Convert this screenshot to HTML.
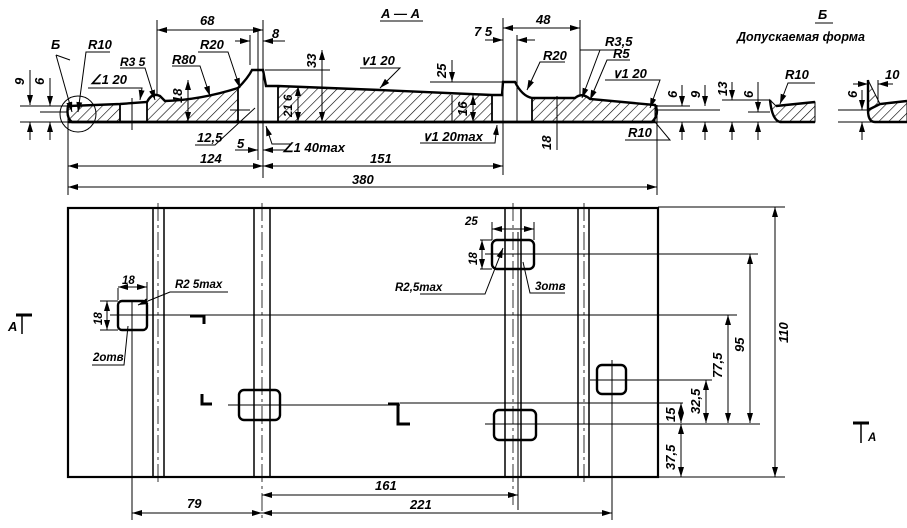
<!DOCTYPE html>
<html><head><meta charset="utf-8">
<style>
html,body{margin:0;padding:0;background:#fff;}
svg{display:block;}
text{font-family:"Liberation Sans",sans-serif;font-style:italic;font-weight:bold;fill:#000;}
</style></head><body>
<svg width="907" height="528" viewBox="0 0 907 528" xmlns="http://www.w3.org/2000/svg">
<defs>
<pattern id="h" width="7" height="7" patternUnits="userSpaceOnUse" patternTransform="rotate(45)">
<line x1="0" y1="0" x2="0" y2="7" stroke="#000" stroke-width="1.2"/>
</pattern>
<marker id="a" markerWidth="10" markerHeight="6" refX="10" refY="3" orient="auto-start-reverse" markerUnits="userSpaceOnUse">
<path d="M0,0 L10,3 L0,6 z" fill="#000"/>
</marker>
</defs>
<g stroke="#000" fill="none" stroke-width="1">

<line x1="20" y1="122" x2="720" y2="122"/>
<line x1="20" y1="106" x2="68" y2="106"/>
<path d="M68,122 L68,106 L120,104 L120,122 Z" fill="url(#h)"/>
<path d="M147,122 L147,102 Q152,92 160,96 L165,101 Q200,100 238,88 L238,122 Z" fill="url(#h)"/>
<path d="M278,122 L278,86 L380,90 L492,95 L492,122 Z" fill="url(#h)"/>
<path d="M532,122 L532,98 L575,98 Q582,92 590,99 L655,105 L655,122 Z" fill="url(#h)"/>
<path d="M72,122 Q66,118 68,106 L120,104 L147,102 Q152,92 160,96 L165,101 Q200,100 238,88 Q248,78 252,70 L263,70 L266,86 L278,86 L380,90 L492,95 L502,95 L503,82 L515,82 Q522,96 532,98 L575,98 Q582,92 590,99 L655,105 Q660,114 652,122 Z" stroke-width="2.4"/>
<line x1="68" y1="122" x2="655" y2="122" stroke-width="2.4"/>
<line x1="120" y1="104" x2="120" y2="122" stroke-width="1.8"/>
<line x1="147" y1="102" x2="147" y2="122" stroke-width="1.8"/>
<line x1="238" y1="88" x2="238" y2="122" stroke-width="1.8"/>
<line x1="278" y1="86" x2="278" y2="122" stroke-width="1.8"/>
<line x1="492" y1="95" x2="492" y2="122" stroke-width="1.8"/>
<line x1="532" y1="98" x2="532" y2="122" stroke-width="1.8"/>
<circle cx="78" cy="114" r="18"/>
<line x1="132" y1="98" x2="132" y2="130"/>
<line x1="68" y1="122" x2="68" y2="195"/>
<line x1="263" y1="20" x2="263" y2="178"/>
<line x1="258" y1="30" x2="258" y2="160"/>
<line x1="157" y1="20" x2="157" y2="95"/>
<line x1="503" y1="18" x2="503" y2="175"/>
<line x1="517" y1="35" x2="517" y2="122"/>
<line x1="580" y1="20" x2="580" y2="95"/>
<line x1="657" y1="105" x2="657" y2="195"/>
<line x1="250" y1="35" x2="250" y2="65"/>
<line x1="265" y1="70" x2="330" y2="70"/>
<line x1="430" y1="82" x2="503" y2="82"/>
<line x1="68" y1="166" x2="263" y2="166" marker-start="url(#a)" marker-end="url(#a)"/>
<line x1="263" y1="166" x2="503" y2="166" marker-start="url(#a)" marker-end="url(#a)"/>
<line x1="68" y1="187" x2="657" y2="187" marker-start="url(#a)" marker-end="url(#a)"/>
<line x1="157" y1="30" x2="263" y2="30" marker-start="url(#a)" marker-end="url(#a)"/>
<line x1="235" y1="41" x2="250" y2="41" marker-end="url(#a)"/>
<line x1="285" y1="41" x2="263" y2="41" marker-end="url(#a)"/>
<line x1="503" y1="28" x2="580" y2="28" marker-start="url(#a)" marker-end="url(#a)"/>
<line x1="485" y1="40" x2="503" y2="40" marker-end="url(#a)"/>
<line x1="535" y1="40" x2="517" y2="40" marker-end="url(#a)"/>
<line x1="235" y1="150" x2="258" y2="150" marker-end="url(#a)"/>
<line x1="285" y1="150" x2="263" y2="150" marker-end="url(#a)"/>
<line x1="322" y1="50" x2="322" y2="122" marker-start="url(#a)" marker-end="url(#a)"/>
<line x1="298" y1="86" x2="298" y2="122" marker-start="url(#a)" marker-end="url(#a)"/>
<line x1="452" y1="60" x2="452" y2="82" marker-end="url(#a)"/>
<line x1="452" y1="95" x2="452" y2="122"/>
<line x1="473" y1="95" x2="473" y2="122" marker-start="url(#a)" marker-end="url(#a)"/>
<line x1="188" y1="80" x2="188" y2="122" marker-start="url(#a)" marker-end="url(#a)"/>
<line x1="557" y1="96" x2="557" y2="150"/>
<line x1="30" y1="70" x2="30" y2="105" marker-end="url(#a)"/>
<line x1="30" y1="140" x2="30" y2="122" marker-end="url(#a)"/>
<line x1="50" y1="78" x2="50" y2="106" marker-end="url(#a)"/>
<line x1="50" y1="140" x2="50" y2="122" marker-end="url(#a)"/>
<line x1="40" y1="112" x2="68" y2="112"/>
<line x1="657" y1="106" x2="690" y2="106"/>
<line x1="657" y1="110" x2="720" y2="110"/>
<line x1="682" y1="85" x2="682" y2="106" marker-end="url(#a)"/>
<line x1="682" y1="140" x2="682" y2="122" marker-end="url(#a)"/>
<line x1="705" y1="85" x2="705" y2="106" marker-end="url(#a)"/>
<line x1="705" y1="140" x2="705" y2="122" marker-end="url(#a)"/>
<polyline points="70,60 56,55"/><line x1="56" y1="55" x2="72" y2="112" marker-end="url(#a)"/>
<polyline points="110,52 86,52 78,112" marker-end="url(#a)"/>
<polyline points="88,88 142,88 140,100" marker-end="url(#a)"/>
<polyline points="120,68 145,68 155,100" marker-end="url(#a)"/>
<polyline points="172,66 200,66 210,96" marker-end="url(#a)"/>
<polyline points="198,52 228,52 240,88" marker-end="url(#a)"/>
<polyline points="195,145 215,145 255,108"/>
<polyline points="230,110 250,110"/>
<polyline points="290,144 272,144 266,126" marker-end="url(#a)"/>
<polyline points="360,68 400,68 380,88" marker-end="url(#a)"/>
<polyline points="420,143 495,143 497,125" marker-end="url(#a)"/>
<polyline points="565,62 540,62 527,90" marker-end="url(#a)"/>
<polyline points="618,50 600,50 582,98" marker-end="url(#a)"/>
<polyline points="630,60 607,60 590,100" marker-end="url(#a)"/>
<polyline points="605,80 660,80 650,108" marker-end="url(#a)"/>
<polyline points="625,140 670,140 655,122"/>
<line x1="580" y1="50" x2="620" y2="50"/>
<line x1="380" y1="21" x2="423" y2="21"/>

<line x1="720" y1="122" x2="815" y2="122"/>
<line x1="722" y1="100" x2="770" y2="100"/>
<line x1="748" y1="112" x2="770" y2="112"/>
<path d="M770,100 Q772,120 780,122 L815,122 L815,102 L776,106 Z" fill="url(#h)"/>
<path d="M770,100 Q772,120 780,122 L815,122 M776,106 L815,102" stroke-width="2.4"/>
<line x1="732" y1="82" x2="732" y2="100" marker-end="url(#a)"/>
<line x1="732" y1="140" x2="732" y2="122" marker-end="url(#a)"/>
<line x1="758" y1="82" x2="758" y2="112" marker-end="url(#a)"/>
<line x1="758" y1="140" x2="758" y2="122" marker-end="url(#a)"/>
<polyline points="815,83 788,83 780,104" marker-end="url(#a)"/>
<line x1="838" y1="122" x2="907" y2="122"/>
<line x1="838" y1="110" x2="868" y2="110"/>
<path d="M868,80 L868,110 Q868,122 875,122 L907,122 L907,101 L880,104 Z" fill="url(#h)"/>
<path d="M868,80 L868,110 Q868,122 875,122 L907,122 M868,110 L880,104 L907,101" stroke-width="2.4"/>
<line x1="878" y1="80" x2="878" y2="102"/>
<line x1="853" y1="84" x2="868" y2="84" marker-end="url(#a)"/>
<line x1="893" y1="84" x2="878" y2="84" marker-end="url(#a)"/>
<line x1="862" y1="90" x2="862" y2="110" marker-end="url(#a)"/>
<line x1="862" y1="140" x2="862" y2="122" marker-end="url(#a)"/>
<line x1="815" y1="23" x2="833" y2="23"/>

<rect x="68" y="208" width="590" height="269" stroke-width="2.2"/>
<g stroke-width="1.5">
<line x1="153" y1="208" x2="153" y2="477"/><line x1="164" y1="208" x2="164" y2="477"/>
<line x1="254" y1="208" x2="254" y2="477"/><line x1="270" y1="208" x2="270" y2="477"/>
<line x1="505" y1="208" x2="505" y2="477"/><line x1="521" y1="208" x2="521" y2="477"/>
<line x1="578" y1="208" x2="578" y2="477"/><line x1="589" y1="208" x2="589" y2="477"/>
</g>
<g stroke-dasharray="18,4,3,4" stroke-width="0.8">
<line x1="158" y1="203" x2="158" y2="483"/>
<line x1="262" y1="203" x2="262" y2="520"/>
<line x1="513" y1="203" x2="513" y2="505"/>
<line x1="584" y1="203" x2="584" y2="485"/>
</g>
<g stroke-width="2.4">
<rect x="118" y="301" width="29" height="29" rx="4"/>
<rect x="239" y="390" width="41" height="30" rx="5"/>
<rect x="492" y="240" width="42" height="29" rx="5"/>
<rect x="494" y="410" width="42" height="30" rx="5"/>
<rect x="597" y="365" width="29" height="29" rx="5"/>
</g>
<line x1="110" y1="315" x2="737" y2="315"/>
<line x1="228" y1="405" x2="400" y2="405"/>
<line x1="400" y1="403" x2="683" y2="403"/>
<line x1="485" y1="254" x2="758" y2="254"/>
<line x1="485" y1="424" x2="760" y2="424"/>
<line x1="590" y1="380" x2="712" y2="380"/>
<line x1="132" y1="300" x2="132" y2="520"/>
<line x1="612" y1="360" x2="612" y2="520"/>
<line x1="518" y1="232" x2="518" y2="510"/>
<path d="M190,316 L204,316 L204,324" stroke-width="3"/>
<path d="M202,394 L202,404 L212,404" stroke-width="3"/>
<path d="M388,404 L398,404 L398,424 L410,424" stroke-width="3"/>
<line x1="658" y1="207" x2="785" y2="207"/>
<line x1="658" y1="477" x2="785" y2="477"/>
<line x1="775" y1="207" x2="775" y2="477" marker-start="url(#a)" marker-end="url(#a)"/>
<line x1="750" y1="254" x2="750" y2="423" marker-start="url(#a)" marker-end="url(#a)"/>
<line x1="728" y1="315" x2="728" y2="423" marker-start="url(#a)" marker-end="url(#a)"/>
<line x1="706" y1="380" x2="706" y2="423" marker-start="url(#a)" marker-end="url(#a)"/>
<line x1="681" y1="403" x2="681" y2="423" marker-start="url(#a)" marker-end="url(#a)"/>
<line x1="681" y1="424" x2="681" y2="477" marker-start="url(#a)" marker-end="url(#a)"/>
<line x1="132" y1="513" x2="262" y2="513" marker-start="url(#a)" marker-end="url(#a)"/>
<line x1="262" y1="495" x2="518" y2="495" marker-start="url(#a)" marker-end="url(#a)"/>
<line x1="262" y1="513" x2="612" y2="513" marker-start="url(#a)" marker-end="url(#a)"/>
<line x1="118" y1="288" x2="118" y2="300"/><line x1="147" y1="282" x2="147" y2="300"/>
<line x1="118" y1="287" x2="147" y2="287" marker-start="url(#a)" marker-end="url(#a)"/>
<line x1="100" y1="301" x2="118" y2="301"/><line x1="100" y1="330" x2="118" y2="330"/>
<line x1="107" y1="301" x2="107" y2="330" marker-start="url(#a)" marker-end="url(#a)"/>
<polyline points="228,292 170,292 138,305" marker-end="url(#a)"/>
<polyline points="92,365 124,365 128,326"/>
<line x1="492" y1="222" x2="492" y2="240"/><line x1="534" y1="222" x2="534" y2="240"/>
<line x1="492" y1="229" x2="534" y2="229" marker-start="url(#a)" marker-end="url(#a)"/>
<line x1="480" y1="240" x2="492" y2="240"/><line x1="480" y1="269" x2="492" y2="269"/>
<line x1="482" y1="240" x2="482" y2="269" marker-start="url(#a)" marker-end="url(#a)"/>
<polyline points="420,294 485,294 503,248" marker-end="url(#a)"/>
<polyline points="565,293 530,293 523,262"/>
<line x1="16" y1="315" x2="32" y2="315" stroke-width="3"/>
<line x1="22" y1="315" x2="22" y2="334" stroke-width="1.5"/>
<line x1="853" y1="423" x2="869" y2="423" stroke-width="3"/>
<line x1="861" y1="423" x2="861" y2="443" stroke-width="1.5"/>
</g>

<g font-size="13">
<text x="381" y="18">А — А</text>
<text x="818" y="19">Б</text>
<text x="737" y="41" font-size="12.5">Допускаемая форма</text>
<text x="51" y="49">Б</text>
<text x="88" y="49">R10</text>
<text x="120" y="66" font-size="12">R3 5</text>
<text x="90" y="84">∠1 20</text>
<text x="172" y="64">R80</text>
<text x="200" y="49">R20</text>
<text x="197" y="142">12,5</text>
<text x="200" y="25">68</text>
<text x="272" y="38">8</text>
<text x="237" y="148">5</text>
<text x="282" y="152">∠1 40max</text>
<text x="360" y="65">∨1 20</text>
<text x="422" y="141">∨1 20max</text>
<text x="200" y="163">124</text>
<text x="370" y="163">151</text>
<text x="352" y="184">380</text>
<text x="474" y="36">7 5</text>
<text x="536" y="24">48</text>
<text x="543" y="60">R20</text>
<text x="605" y="46">R3,5</text>
<text x="613" y="58">R5</text>
<text x="612" y="78">∨1 20</text>
<text x="628" y="137">R10</text>
<text x="785" y="79">R10</text>
<text x="885" y="79">10</text>
<text x="122" y="284" font-size="11.5">18</text>
<text x="175" y="288" font-size="11.5">R2 5max</text>
<text x="93" y="361" font-size="11.5">2отв</text>
<text x="465" y="225" font-size="11.5">25</text>
<text x="395" y="291" font-size="11.5">R2,5max</text>
<text x="535" y="290" font-size="11.5">3отв</text>
<text x="187" y="508">79</text>
<text x="375" y="490">161</text>
<text x="410" y="509">221</text>
<text x="8" y="331">А</text>
<text x="868" y="441" font-size="11.5">А</text>
</g>
<g font-size="13">
<text transform="translate(24,85) rotate(-90)">9</text>
<text transform="translate(44,85) rotate(-90)">6</text>
<text transform="translate(182,103) rotate(-90)">18</text>
<text transform="translate(316,68) rotate(-90)">33</text>
<text transform="translate(292,117) rotate(-90)" font-size="11.5">21 6</text>
<text transform="translate(446,78) rotate(-90)">25</text>
<text transform="translate(467,116) rotate(-90)">16</text>
<text transform="translate(551,150) rotate(-90)">18</text>
<text transform="translate(677,98) rotate(-90)">6</text>
<text transform="translate(700,98) rotate(-90)">9</text>
<text transform="translate(727,96) rotate(-90)">13</text>
<text transform="translate(753,98) rotate(-90)">6</text>
<text transform="translate(857,98) rotate(-90)">6</text>
<text transform="translate(102,325) rotate(-90)" font-size="11.5">18</text>
<text transform="translate(477,265) rotate(-90)" font-size="11.5">18</text>
<text transform="translate(788,343) rotate(-90)">110</text>
<text transform="translate(744,352) rotate(-90)">95</text>
<text transform="translate(722,378) rotate(-90)">77,5</text>
<text transform="translate(700,414) rotate(-90)">32,5</text>
<text transform="translate(675,422) rotate(-90)">15</text>
<text transform="translate(675,470) rotate(-90)">37,5</text>
</g>
</svg>
</body></html>
